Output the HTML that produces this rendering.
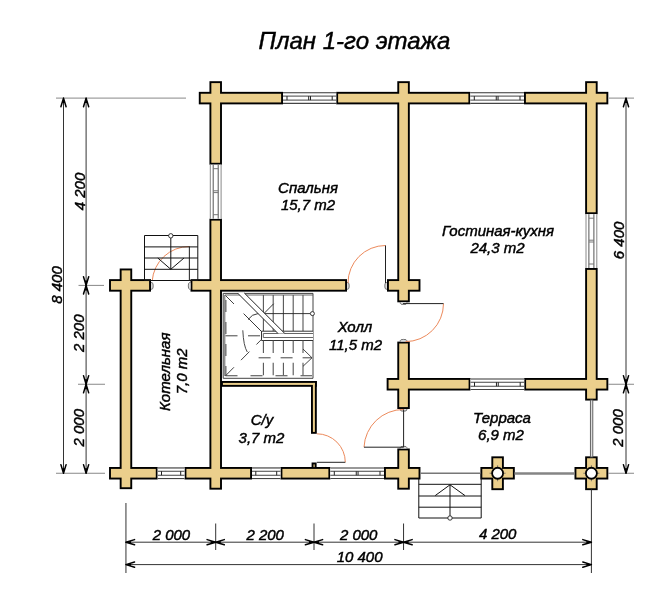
<!DOCTYPE html>
<html><head><meta charset="utf-8"><style>
html,body{margin:0;padding:0;background:#fff;}
svg{display:block;will-change:transform;}
</style></head><body>
<svg width="665" height="600" viewBox="0 0 665 600">
<rect width="665" height="600" fill="#fff"/>
<rect x="198.8" y="91.85" width="84.2" height="12.5" fill="#000"/>
<rect x="336.2" y="91.85" width="134.1" height="12.5" fill="#000"/>
<rect x="524" y="91.85" width="84.3" height="12.5" fill="#000"/>
<rect x="109.05" y="279.15" width="41.95" height="12.5" fill="#000"/>
<rect x="190.5" y="279.15" width="156.5" height="12.5" fill="#000"/>
<rect x="387" y="279.15" width="33.45" height="12.5" fill="#000"/>
<rect x="386.65" y="378" width="83.85" height="12.5" fill="#000"/>
<rect x="524.2" y="378" width="84.1" height="12.5" fill="#000"/>
<rect x="109.05" y="467" width="48.65" height="12.5" fill="#000"/>
<rect x="184.5" y="467" width="67.5" height="12.5" fill="#000"/>
<rect x="280.5" y="467" width="49.8" height="12.5" fill="#000"/>
<rect x="384" y="467" width="36.45" height="12.5" fill="#000"/>
<rect x="119.7" y="268.5" width="12.5" height="220.65" fill="#000"/>
<rect x="209.45" y="81.2" width="12.5" height="83.5" fill="#000"/>
<rect x="209.45" y="218.7" width="12.5" height="270.95" fill="#000"/>
<rect x="397.3" y="81.2" width="12.5" height="221.1" fill="#000"/>
<rect x="397.3" y="341.6" width="12.5" height="67.4" fill="#000"/>
<rect x="397.3" y="448.5" width="12.5" height="41.15" fill="#000"/>
<rect x="585.15" y="81.2" width="12.5" height="133" fill="#000"/>
<rect x="585.15" y="268" width="12.5" height="132.55" fill="#000"/>
<rect x="480.4" y="467" width="34.4" height="12.5" fill="#000"/>
<rect x="491.35" y="456.35" width="12.5" height="33.8" fill="#000"/>
<rect x="574.5" y="467" width="33.8" height="12.5" fill="#000"/>
<rect x="585.15" y="456.35" width="12.5" height="33.8" fill="#000"/>
<rect x="221" y="381" width="95.8" height="5.8" fill="#000"/>
<rect x="311" y="381" width="5.8" height="52.8" fill="#000"/>
<rect x="311.6" y="462.5" width="5" height="6.5" fill="#000"/>
<rect x="200.7" y="93.75" width="80.4" height="8.7" fill="#EBCF8C"/>
<rect x="338.1" y="93.75" width="130.3" height="8.7" fill="#EBCF8C"/>
<rect x="525.9" y="93.75" width="80.5" height="8.7" fill="#EBCF8C"/>
<rect x="110.95" y="281.05" width="38.15" height="8.7" fill="#EBCF8C"/>
<rect x="192.4" y="281.05" width="152.7" height="8.7" fill="#EBCF8C"/>
<rect x="388.9" y="281.05" width="29.65" height="8.7" fill="#EBCF8C"/>
<rect x="388.55" y="379.9" width="80.05" height="8.7" fill="#EBCF8C"/>
<rect x="526.1" y="379.9" width="80.3" height="8.7" fill="#EBCF8C"/>
<rect x="110.95" y="468.9" width="44.85" height="8.7" fill="#EBCF8C"/>
<rect x="186.4" y="468.9" width="63.7" height="8.7" fill="#EBCF8C"/>
<rect x="282.4" y="468.9" width="46" height="8.7" fill="#EBCF8C"/>
<rect x="385.9" y="468.9" width="32.65" height="8.7" fill="#EBCF8C"/>
<rect x="121.6" y="270.4" width="8.7" height="216.85" fill="#EBCF8C"/>
<rect x="211.35" y="83.1" width="8.7" height="79.7" fill="#EBCF8C"/>
<rect x="211.35" y="220.6" width="8.7" height="267.15" fill="#EBCF8C"/>
<rect x="399.2" y="83.1" width="8.7" height="217.3" fill="#EBCF8C"/>
<rect x="399.2" y="343.5" width="8.7" height="63.6" fill="#EBCF8C"/>
<rect x="399.2" y="450.4" width="8.7" height="37.35" fill="#EBCF8C"/>
<rect x="587.05" y="83.1" width="8.7" height="129.2" fill="#EBCF8C"/>
<rect x="587.05" y="269.9" width="8.7" height="128.75" fill="#EBCF8C"/>
<rect x="482.3" y="468.9" width="30.6" height="8.7" fill="#EBCF8C"/>
<rect x="493.25" y="458.25" width="8.7" height="30" fill="#EBCF8C"/>
<rect x="576.4" y="468.9" width="30" height="8.7" fill="#EBCF8C"/>
<rect x="587.05" y="458.25" width="8.7" height="30" fill="#EBCF8C"/>
<rect x="222.9" y="382.9" width="92" height="2" fill="#EBCF8C"/>
<rect x="312.9" y="382.9" width="2" height="49" fill="#EBCF8C"/>
<rect x="313.5" y="464.4" width="1.2" height="2.7" fill="#EBCF8C"/>
<line x1="489.6" y1="473.25" x2="505.6" y2="473.25" stroke="#555" stroke-width="0.7"/>
<line x1="497.6" y1="465.25" x2="497.6" y2="481.25" stroke="#555" stroke-width="0.7"/>
<circle cx="497.6" cy="473.25" r="5.5" fill="#fff" stroke="#000" stroke-width="1.8"/>
<line x1="583.4" y1="473.25" x2="599.4" y2="473.25" stroke="#555" stroke-width="0.7"/>
<line x1="591.4" y1="465.25" x2="591.4" y2="481.25" stroke="#555" stroke-width="0.7"/>
<circle cx="591.4" cy="473.25" r="5.5" fill="#fff" stroke="#000" stroke-width="1.8"/>
<path d="M151,282.6 L152,282.6 Q153.2,282.6 153.2,285.9 Q153.2,289.2 152,289.2 L151,289.2" fill="#ddd" stroke="#555" stroke-width="0.8"/>
<path d="M190.5,282.6 L189.5,282.6 Q188.3,282.6 188.3,285.9 Q188.3,289.2 189.5,289.2 L190.5,289.2" fill="#ddd" stroke="#555" stroke-width="0.8"/>
<path d="M347,282.6 L348,282.6 Q349.2,282.6 349.2,285.9 Q349.2,289.2 348,289.2 L347,289.2" fill="#ddd" stroke="#555" stroke-width="0.8"/>
<path d="M387,282.6 L386,282.6 Q384.8,282.6 384.8,285.9 Q384.8,289.2 386,289.2 L387,289.2" fill="#ddd" stroke="#555" stroke-width="0.8"/>
<path d="M400.25,302.3 L400.25,303.3 Q400.25,304.5 403.55,304.5 Q406.85,304.5 406.85,303.3 L406.85,302.3" fill="#ddd" stroke="#555" stroke-width="0.8"/>
<path d="M400.25,341.6 L400.25,340.6 Q400.25,339.4 403.55,339.4 Q406.85,339.4 406.85,340.6 L406.85,341.6" fill="#ddd" stroke="#555" stroke-width="0.8"/>
<path d="M400.25,409 L400.25,410 Q400.25,411.2 403.55,411.2 Q406.85,411.2 406.85,410 L406.85,409" fill="#ddd" stroke="#555" stroke-width="0.8"/>
<path d="M400.25,448.5 L400.25,447.5 Q400.25,446.3 403.55,446.3 Q406.85,446.3 406.85,447.5 L406.85,448.5" fill="#ddd" stroke="#555" stroke-width="0.8"/>
<rect x="283" y="92.7" width="53.2" height="10.8" fill="#fff"/>
<line x1="283" y1="92.8" x2="336.2" y2="92.8" stroke="#333" stroke-width="1.1"/>
<line x1="283" y1="103.4" x2="336.2" y2="103.4" stroke="#444" stroke-width="1.1"/>
<line x1="283" y1="96.1" x2="336.2" y2="96.1" stroke="#444" stroke-width="1.0"/>
<line x1="283" y1="100.1" x2="336.2" y2="100.1" stroke="#444" stroke-width="1.0"/>
<line x1="287" y1="96.1" x2="287" y2="100.1" stroke="#222" stroke-width="1"/>
<line x1="308.7" y1="96.1" x2="308.7" y2="100.1" stroke="#222" stroke-width="1"/>
<line x1="310.5" y1="96.1" x2="310.5" y2="100.1" stroke="#222" stroke-width="1"/>
<line x1="332.2" y1="96.1" x2="332.2" y2="100.1" stroke="#222" stroke-width="1"/>
<rect x="470.3" y="92.7" width="53.7" height="10.8" fill="#fff"/>
<line x1="470.3" y1="92.8" x2="524" y2="92.8" stroke="#333" stroke-width="1.1"/>
<line x1="470.3" y1="103.4" x2="524" y2="103.4" stroke="#444" stroke-width="1.1"/>
<line x1="470.3" y1="96.1" x2="524" y2="96.1" stroke="#444" stroke-width="1.0"/>
<line x1="470.3" y1="100.1" x2="524" y2="100.1" stroke="#444" stroke-width="1.0"/>
<line x1="474.3" y1="96.1" x2="474.3" y2="100.1" stroke="#222" stroke-width="1"/>
<line x1="496.25" y1="96.1" x2="496.25" y2="100.1" stroke="#222" stroke-width="1"/>
<line x1="498.05" y1="96.1" x2="498.05" y2="100.1" stroke="#222" stroke-width="1"/>
<line x1="520" y1="96.1" x2="520" y2="100.1" stroke="#222" stroke-width="1"/>
<rect x="470.5" y="378.85" width="53.7" height="10.8" fill="#fff"/>
<line x1="470.5" y1="378.95" x2="524.2" y2="378.95" stroke="#333" stroke-width="1.1"/>
<line x1="470.5" y1="389.55" x2="524.2" y2="389.55" stroke="#444" stroke-width="1.1"/>
<line x1="470.5" y1="382.25" x2="524.2" y2="382.25" stroke="#444" stroke-width="1.0"/>
<line x1="470.5" y1="386.25" x2="524.2" y2="386.25" stroke="#444" stroke-width="1.0"/>
<line x1="474.5" y1="382.25" x2="474.5" y2="386.25" stroke="#222" stroke-width="1"/>
<line x1="496.45" y1="382.25" x2="496.45" y2="386.25" stroke="#222" stroke-width="1"/>
<line x1="498.25" y1="382.25" x2="498.25" y2="386.25" stroke="#222" stroke-width="1"/>
<line x1="520.2" y1="382.25" x2="520.2" y2="386.25" stroke="#222" stroke-width="1"/>
<rect x="157.7" y="467.85" width="26.8" height="10.8" fill="#fff"/>
<line x1="157.7" y1="467.95" x2="184.5" y2="467.95" stroke="#333" stroke-width="1.1"/>
<line x1="157.7" y1="478.55" x2="184.5" y2="478.55" stroke="#444" stroke-width="1.1"/>
<line x1="157.7" y1="471.25" x2="184.5" y2="471.25" stroke="#444" stroke-width="1.0"/>
<line x1="157.7" y1="475.25" x2="184.5" y2="475.25" stroke="#444" stroke-width="1.0"/>
<line x1="161.5" y1="471.25" x2="161.5" y2="475.25" stroke="#222" stroke-width="1"/>
<line x1="180.7" y1="471.25" x2="180.7" y2="475.25" stroke="#222" stroke-width="1"/>
<rect x="252" y="467.85" width="28.5" height="10.8" fill="#fff"/>
<line x1="252" y1="467.95" x2="280.5" y2="467.95" stroke="#333" stroke-width="1.1"/>
<line x1="252" y1="478.55" x2="280.5" y2="478.55" stroke="#444" stroke-width="1.1"/>
<line x1="252" y1="471.25" x2="280.5" y2="471.25" stroke="#444" stroke-width="1.0"/>
<line x1="252" y1="475.25" x2="280.5" y2="475.25" stroke="#444" stroke-width="1.0"/>
<line x1="255.8" y1="471.25" x2="255.8" y2="475.25" stroke="#222" stroke-width="1"/>
<line x1="276.7" y1="471.25" x2="276.7" y2="475.25" stroke="#222" stroke-width="1"/>
<rect x="330.3" y="467.85" width="53.7" height="10.8" fill="#fff"/>
<line x1="330.3" y1="467.95" x2="384" y2="467.95" stroke="#333" stroke-width="1.1"/>
<line x1="330.3" y1="478.55" x2="384" y2="478.55" stroke="#444" stroke-width="1.1"/>
<line x1="330.3" y1="471.25" x2="384" y2="471.25" stroke="#444" stroke-width="1.0"/>
<line x1="330.3" y1="475.25" x2="384" y2="475.25" stroke="#444" stroke-width="1.0"/>
<line x1="334.3" y1="471.25" x2="334.3" y2="475.25" stroke="#222" stroke-width="1"/>
<line x1="356.25" y1="471.25" x2="356.25" y2="475.25" stroke="#222" stroke-width="1"/>
<line x1="358.05" y1="471.25" x2="358.05" y2="475.25" stroke="#222" stroke-width="1"/>
<line x1="380" y1="471.25" x2="380" y2="475.25" stroke="#222" stroke-width="1"/>
<rect x="210.3" y="164.7" width="10.8" height="54" fill="#fff"/>
<line x1="210.3" y1="164.7" x2="210.3" y2="218.7" stroke="#888" stroke-width="1.0"/>
<line x1="221.1" y1="164.7" x2="221.1" y2="218.7" stroke="#888" stroke-width="1.0"/>
<line x1="213.2" y1="164.7" x2="213.2" y2="218.7" stroke="#555" stroke-width="1.0"/>
<line x1="218.2" y1="164.7" x2="218.2" y2="218.7" stroke="#555" stroke-width="1.0"/>
<line x1="213.2" y1="168.7" x2="218.2" y2="168.7" stroke="#777" stroke-width="1"/>
<line x1="213.2" y1="190.8" x2="218.2" y2="190.8" stroke="#777" stroke-width="1"/>
<line x1="213.2" y1="192.6" x2="218.2" y2="192.6" stroke="#777" stroke-width="1"/>
<line x1="213.2" y1="214.7" x2="218.2" y2="214.7" stroke="#777" stroke-width="1"/>
<rect x="586" y="214.2" width="10.8" height="53.8" fill="#fff"/>
<line x1="586" y1="214.2" x2="586" y2="268" stroke="#888" stroke-width="1.0"/>
<line x1="596.8" y1="214.2" x2="596.8" y2="268" stroke="#888" stroke-width="1.0"/>
<line x1="588.9" y1="214.2" x2="588.9" y2="268" stroke="#555" stroke-width="1.0"/>
<line x1="593.9" y1="214.2" x2="593.9" y2="268" stroke="#555" stroke-width="1.0"/>
<line x1="588.9" y1="218.2" x2="593.9" y2="218.2" stroke="#777" stroke-width="1"/>
<line x1="588.9" y1="240.2" x2="593.9" y2="240.2" stroke="#777" stroke-width="1"/>
<line x1="588.9" y1="242" x2="593.9" y2="242" stroke="#777" stroke-width="1"/>
<line x1="588.9" y1="264" x2="593.9" y2="264" stroke="#777" stroke-width="1"/>
<line x1="514.5" y1="473.4" x2="574.5" y2="473.4" stroke="#858585" stroke-width="2.5"/>
<line x1="420.45" y1="473.25" x2="480.7" y2="473.25" stroke="#777" stroke-width="1.4"/>
<rect x="590.4" y="400" width="2.4" height="57" fill="#ddd" stroke="#555" stroke-width="0.9"/>
<path d="M152.2,281 A37.2,37.2 0 0 1 189.4,246.5" fill="none" stroke="#EC8A5C" stroke-width="1"/>
<line x1="189.4" y1="246.5" x2="189.4" y2="280.5" stroke="#333" stroke-width="1.1"/>
<path d="M348,283 A37.5,37.5 0 0 1 385.5,245.5" fill="none" stroke="#EC8A5C" stroke-width="1"/>
<line x1="385.5" y1="245.5" x2="385.5" y2="283" stroke="#222" stroke-width="1"/>
<path d="M443.5,303.6 A38,38 0 0 1 405.5,341.6" fill="none" stroke="#EC8A5C" stroke-width="1"/>
<line x1="403" y1="303.6" x2="443.5" y2="303.6" stroke="#222" stroke-width="1"/>
<path d="M403.6,409.5 A39.5,39.5 0 0 0 364,447.2" fill="none" stroke="#EC8A5C" stroke-width="1"/>
<line x1="403.6" y1="409.5" x2="403.6" y2="447.2" stroke="#222" stroke-width="1"/>
<line x1="364" y1="447.2" x2="403.6" y2="447.2" stroke="#222" stroke-width="1"/>
<path d="M316.8,433.8 A28.5,28.5 0 0 1 345.3,462.3" fill="none" stroke="#EC8A5C" stroke-width="1"/>
<line x1="316.8" y1="462.3" x2="345.3" y2="462.3" stroke="#222" stroke-width="1"/>
<g stroke="#111" stroke-width="1" fill="none">
<path d="M144.5,280.5 V235.5 H197.8 V280.5 H144.5"/>
<line x1="144.5" y1="246.9" x2="197.8" y2="246.9"/>
<line x1="144.5" y1="258.0" x2="197.8" y2="258.0"/>
<line x1="144.5" y1="269.3" x2="197.8" y2="269.3"/>
<line x1="170.8" y1="238" x2="170.8" y2="269.3"/>
<polyline points="157.8,258 170.8,269.3 184,258"/>
<line x1="144.5" y1="280.5" x2="151" y2="280.5"/><line x1="190.5" y1="280.5" x2="197.8" y2="280.5"/>
</g>
<circle cx="170.8" cy="235.8" r="2.2" fill="#fff" stroke="#222" stroke-width="0.9"/>
<g stroke="#111" stroke-width="1" fill="none">
<path d="M418.8,479 V518 H481.2 V473.3"/>
<line x1="418.8" y1="484.3" x2="481.2" y2="484.3"/>
<line x1="418.8" y1="496.0" x2="481.2" y2="496.0"/>
<line x1="418.8" y1="507.2" x2="481.2" y2="507.2"/>
<line x1="450" y1="484.8" x2="450" y2="516"/>
<polyline points="435.2,495.6 450,484.8 465,495.6"/>
</g>
<circle cx="450" cy="518" r="2.2" fill="#fff" stroke="#222" stroke-width="0.9"/>
<g fill="none">
<path d="M223.2,293.4 H313 V378.3 H223.2 Z" stroke="#444" stroke-width="1"/>
<path d="M224.8,295 H313 M224.8,295 V376" stroke="#555" stroke-width="0.9"/>
<line x1="263.4" y1="295" x2="263.4" y2="331.2" stroke="#555" stroke-width="1.1"/>
<line x1="273.2" y1="295" x2="273.2" y2="331.2" stroke="#555" stroke-width="1.1"/>
<line x1="283.4" y1="295" x2="283.4" y2="331.2" stroke="#555" stroke-width="1.1"/>
<line x1="293.2" y1="295" x2="293.2" y2="331.2" stroke="#555" stroke-width="1.1"/>
<line x1="303.0" y1="295" x2="303.0" y2="331.2" stroke="#555" stroke-width="1.1"/>
<rect x="261.5" y="331.2" width="51.5" height="9.3" fill="#fff"/>
<path d="M313,331.2 H261.5 V340.5 H313" stroke="#333" stroke-width="1"/>
<path d="M313,333.5 H263.3 V337.5 H313" stroke="#666" stroke-width="1"/>
<path d="M248,319.6 Q252,314 258,313.6 H310.2" stroke="#222" stroke-width="0.9"/>
<line x1="263.9" y1="313.6" x2="273.6" y2="303.8" stroke="#222" stroke-width="0.9"/>
<circle cx="312.4" cy="313.6" r="2" fill="#fff" stroke="#222" stroke-width="0.9"/>
<polygon points="237.5,293 244.3,293 284.8,333.5 278,333.5" fill="#fff"/>
<line x1="237.5" y1="293" x2="278" y2="333.5" stroke="#222" stroke-width="1"/>
<line x1="244.3" y1="293" x2="284.8" y2="333.5" stroke="#222" stroke-width="1"/>
<line x1="225.5" y1="295.5" x2="237" y2="307" stroke="#444" stroke-width="1" stroke-dasharray="12,10"/>
<line x1="243.6" y1="313.6" x2="261.6" y2="331.6" stroke="#222" stroke-width="0.9"/>
<line x1="225.5" y1="375.8" x2="261.6" y2="339.3" stroke="#444" stroke-width="1" stroke-dasharray="12,10"/>
<line x1="225.9" y1="300" x2="225.9" y2="376" stroke="#444" stroke-width="1" stroke-dasharray="12,10"/>
<line x1="225.5" y1="335.8" x2="261" y2="335.8" stroke="#444" stroke-width="1" stroke-dasharray="12,10.5"/>
<line x1="225.5" y1="375.7" x2="312" y2="375.7" stroke="#444" stroke-width="1.1" stroke-dasharray="12,13"/>
<line x1="263.4" y1="340.5" x2="263.4" y2="376" stroke="#555" stroke-width="1.1" stroke-dasharray="12.5,9.8"/>
<line x1="273.2" y1="340.5" x2="273.2" y2="376" stroke="#555" stroke-width="1.1" stroke-dasharray="12.5,9.8"/>
<line x1="283.4" y1="340.5" x2="283.4" y2="376" stroke="#555" stroke-width="1.1" stroke-dasharray="12.5,9.8"/>
<line x1="293.2" y1="340.5" x2="293.2" y2="376" stroke="#555" stroke-width="1.1" stroke-dasharray="12.5,9.8"/>
<line x1="303.0" y1="340.5" x2="303.0" y2="376" stroke="#555" stroke-width="1.1" stroke-dasharray="12.5,9.8"/>
<path d="M242.8,330.3 Q243.5,346 247.3,352" stroke="#333" stroke-width="0.9"/>
<line x1="258.6" y1="357.8" x2="312" y2="357.8" stroke="#444" stroke-width="1" stroke-dasharray="12,10"/>
<polyline points="303,349 312,357.8 303,366.3" stroke="#333" stroke-width="0.9"/>
</g>
<line x1="56" y1="98.1" x2="186" y2="98.1" stroke="#888" stroke-width="1"/>
<line x1="56" y1="473.25" x2="105" y2="473.25" stroke="#888" stroke-width="1"/>
<line x1="78.5" y1="285.4" x2="104" y2="285.4" stroke="#888" stroke-width="1"/>
<line x1="78" y1="384.25" x2="105" y2="384.25" stroke="#888" stroke-width="1"/>
<line x1="63.5" y1="98.1" x2="63.5" y2="473.25" stroke="#333" stroke-width="1"/>
<line x1="86.1" y1="98.1" x2="86.1" y2="473.25" stroke="#333" stroke-width="1"/>
<path d="M63.5,98.1 L66.1,106.7 M63.5,98.1 L60.9,106.7" stroke="#000" stroke-width="1.5" stroke-linecap="round" fill="none"/>
<path d="M63.5,98.1 L64.8,103.1 L62.2,103.1 Z" fill="#000"/>
<path d="M63.5,473.25 L60.9,464.65 M63.5,473.25 L66.1,464.65" stroke="#000" stroke-width="1.5" stroke-linecap="round" fill="none"/>
<path d="M63.5,473.25 L62.2,468.25 L64.8,468.25 Z" fill="#000"/>
<path d="M86.1,98.1 L88.7,106.7 M86.1,98.1 L83.5,106.7" stroke="#000" stroke-width="1.5" stroke-linecap="round" fill="none"/>
<path d="M86.1,98.1 L87.4,103.1 L84.8,103.1 Z" fill="#000"/>
<path d="M86.1,473.25 L83.5,464.65 M86.1,473.25 L88.7,464.65" stroke="#000" stroke-width="1.5" stroke-linecap="round" fill="none"/>
<path d="M86.1,473.25 L84.8,468.25 L87.4,468.25 Z" fill="#000"/>
<path d="M86.1,285.4 L83.5,276.8 M86.1,285.4 L88.7,276.8" stroke="#000" stroke-width="1.5" stroke-linecap="round" fill="none"/>
<path d="M86.1,285.4 L84.8,280.4 L87.4,280.4 Z" fill="#000"/>
<path d="M86.1,285.4 L88.7,294 M86.1,285.4 L83.5,294" stroke="#000" stroke-width="1.5" stroke-linecap="round" fill="none"/>
<path d="M86.1,285.4 L87.4,290.4 L84.8,290.4 Z" fill="#000"/>
<path d="M86.1,384.25 L83.5,375.65 M86.1,384.25 L88.7,375.65" stroke="#000" stroke-width="1.5" stroke-linecap="round" fill="none"/>
<path d="M86.1,384.25 L84.8,379.25 L87.4,379.25 Z" fill="#000"/>
<path d="M86.1,384.25 L88.7,392.85 M86.1,384.25 L83.5,392.85" stroke="#000" stroke-width="1.5" stroke-linecap="round" fill="none"/>
<path d="M86.1,384.25 L87.4,389.25 L84.8,389.25 Z" fill="#000"/>
<line x1="609" y1="98.1" x2="634" y2="98.1" stroke="#888" stroke-width="1"/>
<line x1="608" y1="384.25" x2="634" y2="384.25" stroke="#888" stroke-width="1"/>
<line x1="608" y1="473.25" x2="634" y2="473.25" stroke="#888" stroke-width="1"/>
<line x1="626" y1="98.1" x2="626" y2="473.25" stroke="#333" stroke-width="1"/>
<path d="M626,98.1 L628.6,106.7 M626,98.1 L623.4,106.7" stroke="#000" stroke-width="1.5" stroke-linecap="round" fill="none"/>
<path d="M626,98.1 L627.3,103.1 L624.7,103.1 Z" fill="#000"/>
<path d="M626,473.25 L623.4,464.65 M626,473.25 L628.6,464.65" stroke="#000" stroke-width="1.5" stroke-linecap="round" fill="none"/>
<path d="M626,473.25 L624.7,468.25 L627.3,468.25 Z" fill="#000"/>
<path d="M626,384.25 L623.4,375.65 M626,384.25 L628.6,375.65" stroke="#000" stroke-width="1.5" stroke-linecap="round" fill="none"/>
<path d="M626,384.25 L624.7,379.25 L627.3,379.25 Z" fill="#000"/>
<path d="M626,384.25 L628.6,392.85 M626,384.25 L623.4,392.85" stroke="#000" stroke-width="1.5" stroke-linecap="round" fill="none"/>
<path d="M626,384.25 L627.3,389.25 L624.7,389.25 Z" fill="#000"/>
<line x1="125.95" y1="503" x2="125.95" y2="573" stroke="#333" stroke-width="1"/>
<line x1="591.4" y1="489.5" x2="591.4" y2="573" stroke="#333" stroke-width="1"/>
<line x1="215.7" y1="523.5" x2="215.7" y2="550" stroke="#333" stroke-width="1"/>
<line x1="314" y1="523.5" x2="314" y2="550" stroke="#333" stroke-width="1"/>
<line x1="403.55" y1="523.5" x2="403.55" y2="550" stroke="#333" stroke-width="1"/>
<line x1="125.95" y1="542.2" x2="591.4" y2="542.2" stroke="#333" stroke-width="1"/>
<line x1="125.95" y1="564.6" x2="591.4" y2="564.6" stroke="#333" stroke-width="1"/>
<path d="M125.95,542.2 L134.55,539.6 M125.95,542.2 L134.55,544.8" stroke="#000" stroke-width="1.5" stroke-linecap="round" fill="none"/>
<path d="M125.95,542.2 L130.95,540.9 L130.95,543.5 Z" fill="#000"/>
<path d="M591.4,542.2 L582.8,544.8 M591.4,542.2 L582.8,539.6" stroke="#000" stroke-width="1.5" stroke-linecap="round" fill="none"/>
<path d="M591.4,542.2 L586.4,543.5 L586.4,540.9 Z" fill="#000"/>
<path d="M125.95,564.6 L134.55,562 M125.95,564.6 L134.55,567.2" stroke="#000" stroke-width="1.5" stroke-linecap="round" fill="none"/>
<path d="M125.95,564.6 L130.95,563.3 L130.95,565.9 Z" fill="#000"/>
<path d="M591.4,564.6 L582.8,567.2 M591.4,564.6 L582.8,562" stroke="#000" stroke-width="1.5" stroke-linecap="round" fill="none"/>
<path d="M591.4,564.6 L586.4,565.9 L586.4,563.3 Z" fill="#000"/>
<path d="M215.7,542.2 L207.1,544.8 M215.7,542.2 L207.1,539.6" stroke="#000" stroke-width="1.5" stroke-linecap="round" fill="none"/>
<path d="M215.7,542.2 L210.7,543.5 L210.7,540.9 Z" fill="#000"/>
<path d="M215.7,542.2 L224.3,539.6 M215.7,542.2 L224.3,544.8" stroke="#000" stroke-width="1.5" stroke-linecap="round" fill="none"/>
<path d="M215.7,542.2 L220.7,540.9 L220.7,543.5 Z" fill="#000"/>
<path d="M314,542.2 L305.4,544.8 M314,542.2 L305.4,539.6" stroke="#000" stroke-width="1.5" stroke-linecap="round" fill="none"/>
<path d="M314,542.2 L309,543.5 L309,540.9 Z" fill="#000"/>
<path d="M314,542.2 L322.6,539.6 M314,542.2 L322.6,544.8" stroke="#000" stroke-width="1.5" stroke-linecap="round" fill="none"/>
<path d="M314,542.2 L319,540.9 L319,543.5 Z" fill="#000"/>
<path d="M403.55,542.2 L394.95,544.8 M403.55,542.2 L394.95,539.6" stroke="#000" stroke-width="1.5" stroke-linecap="round" fill="none"/>
<path d="M403.55,542.2 L398.55,543.5 L398.55,540.9 Z" fill="#000"/>
<path d="M403.55,542.2 L412.15,539.6 M403.55,542.2 L412.15,544.8" stroke="#000" stroke-width="1.5" stroke-linecap="round" fill="none"/>
<path d="M403.55,542.2 L408.55,540.9 L408.55,543.5 Z" fill="#000"/>
<text x="354.5" y="49.2" font-family="Liberation Sans, sans-serif" font-style="italic" fill="#000" stroke="#000" stroke-width="0.45" font-size="24" text-anchor="middle">План 1-го этажа</text>
<text x="308" y="192.9" font-family="Liberation Sans, sans-serif" font-style="italic" fill="#000" stroke="#000" stroke-width="0.45" font-size="15" text-anchor="middle">Спальня</text>
<text x="308" y="210.3" font-family="Liberation Sans, sans-serif" font-style="italic" fill="#000" stroke="#000" stroke-width="0.45" font-size="15" text-anchor="middle">15,7 m2</text>
<text x="498" y="235.6" font-family="Liberation Sans, sans-serif" font-style="italic" fill="#000" stroke="#000" stroke-width="0.45" font-size="15" text-anchor="middle">Гостиная-кухня</text>
<text x="497.5" y="252.9" font-family="Liberation Sans, sans-serif" font-style="italic" fill="#000" stroke="#000" stroke-width="0.45" font-size="15" text-anchor="middle">24,3 m2</text>
<text x="355" y="332.3" font-family="Liberation Sans, sans-serif" font-style="italic" fill="#000" stroke="#000" stroke-width="0.45" font-size="15" text-anchor="middle">Холл</text>
<text x="355.5" y="349.7" font-family="Liberation Sans, sans-serif" font-style="italic" fill="#000" stroke="#000" stroke-width="0.45" font-size="15" text-anchor="middle">11,5 m2</text>
<text x="262" y="425.3" font-family="Liberation Sans, sans-serif" font-style="italic" fill="#000" stroke="#000" stroke-width="0.45" font-size="15" text-anchor="middle">С/у</text>
<text x="261.5" y="442.8" font-family="Liberation Sans, sans-serif" font-style="italic" fill="#000" stroke="#000" stroke-width="0.45" font-size="15" text-anchor="middle">3,7 m2</text>
<text x="502" y="422.9" font-family="Liberation Sans, sans-serif" font-style="italic" fill="#000" stroke="#000" stroke-width="0.45" font-size="15" text-anchor="middle">Терраса</text>
<text x="501" y="439.7" font-family="Liberation Sans, sans-serif" font-style="italic" fill="#000" stroke="#000" stroke-width="0.45" font-size="15" text-anchor="middle">6,9 m2</text>
<text x="170.1" y="371.8" font-family="Liberation Sans, sans-serif" font-style="italic" fill="#000" stroke="#000" stroke-width="0.45" font-size="15" text-anchor="middle" transform="rotate(-90 170.1 371.8)">Котельная</text>
<text x="187.5" y="371.3" font-family="Liberation Sans, sans-serif" font-style="italic" fill="#000" stroke="#000" stroke-width="0.45" font-size="15" text-anchor="middle" transform="rotate(-90 187.5 371.3)">7,0 m2</text>
<text x="171.4" y="539.6" font-family="Liberation Sans, sans-serif" font-style="italic" fill="#000" stroke="#000" stroke-width="0.45" font-size="15" text-anchor="middle">2 000</text>
<text x="265.2" y="539.6" font-family="Liberation Sans, sans-serif" font-style="italic" fill="#000" stroke="#000" stroke-width="0.45" font-size="15" text-anchor="middle">2 200</text>
<text x="358.7" y="539.6" font-family="Liberation Sans, sans-serif" font-style="italic" fill="#000" stroke="#000" stroke-width="0.45" font-size="15" text-anchor="middle">2 000</text>
<text x="497.7" y="538.8" font-family="Liberation Sans, sans-serif" font-style="italic" fill="#000" stroke="#000" stroke-width="0.45" font-size="15" text-anchor="middle">4 200</text>
<text x="359.6" y="562.3" font-family="Liberation Sans, sans-serif" font-style="italic" fill="#000" stroke="#000" stroke-width="0.45" font-size="15" text-anchor="middle">10 400</text>
<text x="84.6" y="191.5" font-family="Liberation Sans, sans-serif" font-style="italic" fill="#000" stroke="#000" stroke-width="0.45" font-size="15" text-anchor="middle" transform="rotate(-90 84.6 191.5)">4 200</text>
<text x="84.3" y="333.2" font-family="Liberation Sans, sans-serif" font-style="italic" fill="#000" stroke="#000" stroke-width="0.45" font-size="15" text-anchor="middle" transform="rotate(-90 84.3 333.2)">2 200</text>
<text x="84.3" y="427.7" font-family="Liberation Sans, sans-serif" font-style="italic" fill="#000" stroke="#000" stroke-width="0.45" font-size="15" text-anchor="middle" transform="rotate(-90 84.3 427.7)">2 000</text>
<text x="61.6" y="285" font-family="Liberation Sans, sans-serif" font-style="italic" fill="#000" stroke="#000" stroke-width="0.45" font-size="15" text-anchor="middle" transform="rotate(-90 61.6 285)">8 400</text>
<text x="623.6" y="240.4" font-family="Liberation Sans, sans-serif" font-style="italic" fill="#000" stroke="#000" stroke-width="0.45" font-size="15" text-anchor="middle" transform="rotate(-90 623.6 240.4)">6 400</text>
<text x="623.4" y="428" font-family="Liberation Sans, sans-serif" font-style="italic" fill="#000" stroke="#000" stroke-width="0.45" font-size="15" text-anchor="middle" transform="rotate(-90 623.4 428)">2 000</text>
</svg>
</body></html>
